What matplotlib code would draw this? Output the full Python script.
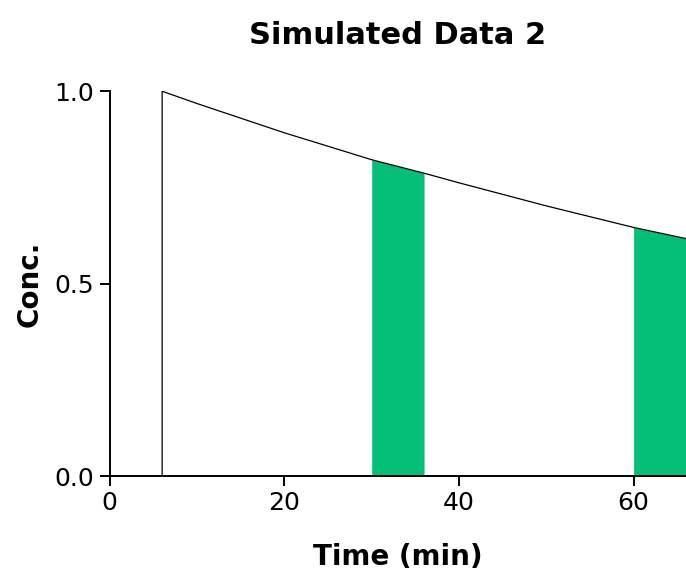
import matplotlib
matplotlib.use("Agg")
import matplotlib.pyplot as plt
import numpy as np

# Data
times = [6, 6, 10, 20, 30, 36, 40, 50, 60, 66, 70]
conc = [0.0, 1.0, 0.968, 0.892, 0.822, 0.787, 0.762, 0.702, 0.646, 0.617, 0.598]
band_starts = [30, 60]
band_ends = [36, 66]
x_ticks = [0, 20, 40, 60]
y_ticks = [0.0, 0.5, 1.0]

green = "#05BE78"

fig = plt.figure(figsize=(6.86, 5.76), dpi=100)
ax = fig.add_axes([0.160, 0.1736, 0.84, 0.668])

# Shaded bands under the curve
for t0, t1 in zip(band_starts, band_ends):
    tt = [t for t in times[1:] if t0 <= t <= t1]
    cc = [c for t, c in zip(times[1:], conc[1:]) if t0 <= t <= t1]
    ax.fill_between(tt, 0, cc, color=green, linewidth=0, zorder=1)

ax.plot(times, conc, color="black", linewidth=0.9, zorder=2)

ax.set_xlim(0, 66)
ax.set_ylim(0, 1.0)
ax.set_xticks(x_ticks)
ax.set_yticks(y_ticks)
ax.set_yticklabels([f"{v:.1f}" for v in y_ticks])

for side in ["top", "right"]:
    ax.spines[side].set_visible(False)
for side in ["left", "bottom"]:
    ax.spines[side].set_linewidth(1.4)
ax.tick_params(direction="out", length=7, width=1.4, labelsize=18, pad=4)

ax.set_title("Simulated Data 2", fontsize=22, fontweight="bold", pad=34)
ax.set_xlabel("Time (min)", fontsize=20, fontweight="bold")
ax.set_ylabel("Conc.", fontsize=20, fontweight="bold")
ax.xaxis.label.set_va("center")
ax.xaxis.set_label_coords(0.5, -0.21)
ax.yaxis.label.set_va("center")
ax.yaxis.set_label_coords(-0.139, 0.5)

fig.savefig("out.png", dpi=100)
